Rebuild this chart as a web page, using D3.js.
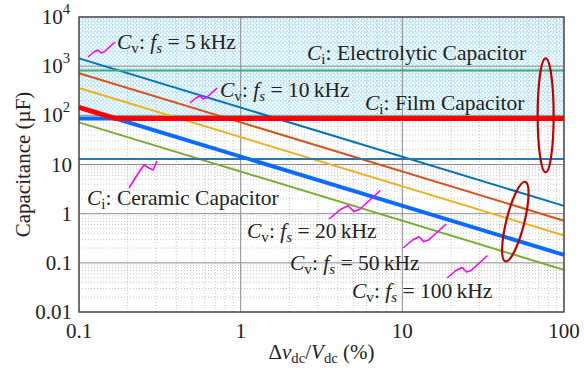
<!DOCTYPE html>
<html>
<head>
<meta charset="utf-8">
<script src="https://cdn.jsdelivr.net/npm/d3@7"></script>
<style>
  html, body { margin: 0; padding: 0; background: #fff; }
  svg text { font-family: 'Liberation Serif', 'DejaVu Serif', serif; fill: #222; }
</style>
</head>
<body>
<div id="chart"></div>
<script>
const WIDTH = 584;
const HEIGHT = 368;

// values (µF, at Δv = 0.1 % and 100 %)
const ripple = [0.1, 100];
const fsKHz = ['5', '10', '20', '50', '100'];
const cvLeft = [1440, 720, 360, 145, 72];
const cvRight = [1.44, 0.72, 0.36, 0.145, 0.072];
const cvColors = ['#0072BD', '#D95319', '#EDB120', '#0a6cff', '#77AC30'];

const capKinds = ['Electrolytic', 'Film', 'Ceramic'];
const capValues = [820, 86, 13];
const capColors = ['#35b07a', '#ff0000', '#1f78c0'];

const xTicks = [0.1, 1, 10, 100];
const xTickLabels = ['0.1', '1', '10', '100'];
const yTicks = [0.01, 0.1, 1, 10, 100, 1000, 10000];
const yTickLabels = ['0.01', '0.1', '1', '10', ['10', '2'], ['10', '3'], ['10', '4']];

const margin = { left: 79, right: 20, top: 17, bottom: 56 };
const x = d3.scaleLog().domain([0.1, 100]).range([margin.left, WIDTH - margin.right]);
const y = d3.scaleLog().domain([0.01, 1e4]).range([HEIGHT - margin.bottom, margin.top]);

const svg = d3.select('#chart').append('svg')
  .attr('width', WIDTH)
  .attr('height', HEIGHT);

// hatch pattern for the region above the film capacitor line
const defs = svg.append('defs');
const pat = defs.append('pattern')
  .attr('id', 'hatch')
  .attr('patternUnits', 'userSpaceOnUse')
  .attr('width', 4).attr('height', 4);
pat.append('rect').attr('width', 4).attr('height', 4).attr('fill', '#eef9fe');
pat.append('rect').attr('width', 2).attr('height', 2).attr('fill', '#c6ebf9');
pat.append('rect').attr('x', 2).attr('y', 2).attr('width', 2).attr('height', 2).attr('fill', '#c6ebf9');

svg.append('rect')
  .attr('x', x(0.1)).attr('y', y(1e4))
  .attr('width', x(100) - x(0.1))
  .attr('height', y(capValues[1]) - y(1e4))
  .attr('fill', 'url(#hatch)');

// grid
const grid = svg.append('g');
const minorX = [], minorY = [];
for (let e = -1; e < 2; e++) for (let k = 2; k <= 9; k++) minorX.push(k * Math.pow(10, e));
for (let e = -2; e < 4; e++) for (let k = 2; k <= 9; k++) minorY.push(k * Math.pow(10, e));

grid.selectAll('.mx').data(minorX).enter().append('line')
  .attr('x1', d => x(d)).attr('x2', d => x(d))
  .attr('y1', y(0.01)).attr('y2', y(1e4))
  .attr('stroke', '#b8b8b8').attr('stroke-width', 0.8).attr('stroke-dasharray', '1,2');
grid.selectAll('.my').data(minorY).enter().append('line')
  .attr('y1', d => y(d)).attr('y2', d => y(d))
  .attr('x1', x(0.1)).attr('x2', x(100))
  .attr('stroke', '#b8b8b8').attr('stroke-width', 0.8).attr('stroke-dasharray', '1,2');
grid.selectAll('.Mx').data(xTicks).enter().append('line')
  .attr('x1', d => x(d)).attr('x2', d => x(d))
  .attr('y1', y(0.01)).attr('y2', y(1e4))
  .attr('stroke', '#8c8c8c').attr('stroke-width', 1);
grid.selectAll('.My').data(yTicks).enter().append('line')
  .attr('y1', d => y(d)).attr('y2', d => y(d))
  .attr('x1', x(0.1)).attr('x2', x(100))
  .attr('stroke', '#8c8c8c').attr('stroke-width', 1);

const line = d3.line().x(d => x(d[0])).y(d => y(d[1]));

// Cv lines (the 50 kHz one is drawn separately as min/max with the film line)
fsKHz.forEach((f, i) => {
  if (i === 3) return;
  svg.append('path')
    .datum([[ripple[0], cvLeft[i]], [ripple[1], cvRight[i]]])
    .attr('d', line)
    .attr('fill', 'none')
    .attr('stroke', cvColors[i])
    .attr('stroke-width', 2);
});

// capacitor horizontal lines (electrolytic, ceramic)
[0, 2].forEach(i => {
  svg.append('path')
    .datum([[ripple[0], capValues[i]], [ripple[1], capValues[i]]])
    .attr('d', line)
    .attr('fill', 'none')
    .attr('stroke', capColors[i])
    .attr('stroke-width', 2);
});

// 50 kHz line vs film capacitor: crossing point
const film = capValues[1];
const k50 = cvLeft[3] * ripple[0];
const xCross = k50 / film;

svg.append('path')
  .datum([[ripple[0], film], [xCross, film], [ripple[1], cvRight[3]]])
  .attr('d', line)
  .attr('fill', 'none')
  .attr('stroke', cvColors[3])
  .attr('stroke-width', 4);

svg.append('path')
  .datum([[ripple[0], cvLeft[3]], [xCross, film], [ripple[1], film]])
  .attr('d', line)
  .attr('fill', 'none')
  .attr('stroke', capColors[1])
  .attr('stroke-width', 5);

// red ellipses
const ellipses = [
  { cx: 77, cy: 100, rx: 8, ry: 57, rot: 0 },
  { cx: 50, cy: 0.69, rx: 9, ry: 41, rot: 14 }
];
svg.selectAll('.ell').data(ellipses).enter().append('ellipse')
  .attr('transform', d => `translate(${x(d.cx)},${y(d.cy)}) rotate(${d.rot})`)
  .attr('rx', d => d.rx).attr('ry', d => d.ry)
  .attr('fill', 'none')
  .attr('stroke', '#c00000')
  .attr('stroke-width', 2.2);

// magenta leaders
const leaders = [
  [88, 57, 1], [190, 103, 1], [129, 188, 1.15], [329, 219, 1.9], [403, 248, 1.6], [447, 278, 1.5]
];
svg.selectAll('.lead').data(leaders).enter().append('path')
  .attr('d', (d, i) => {
    const s = d[2];
    if (i === 2) return `M${d[0]},${d[1]} l10,-16 l5,-7 l5,3 l4,2 l4,-9`;
    return `M${d[0]},${d[1]} l${6 * s},${-5 * s} l${4 * s},${-2 * s} l${3 * s},${3 * s} l${3 * s},${-1 * s} l${11 * s},${-10 * s}`;
  })
  .attr('fill', 'none')
  .attr('stroke', '#ff00ff')
  .attr('stroke-width', 1.6)
  .attr('stroke-linejoin', 'round');

// frame
svg.append('rect')
  .attr('x', x(0.1)).attr('y', y(1e4))
  .attr('width', x(100) - x(0.1)).attr('height', y(0.01) - y(1e4))
  .attr('fill', 'none').attr('stroke', '#444').attr('stroke-width', 1.3);

// labels
const FS = 21.5;
const TFS = 21;
function cvLabel(px, py, f) {
  const t = svg.append('text').attr('x', px).attr('y', py).attr('font-size', FS);
  t.append('tspan').attr('font-style', 'italic').text('C');
  t.append('tspan').attr('font-size', FS * 0.7).attr('dy', 4).text('v');
  t.append('tspan').attr('dy', -4).text(': ');
  t.append('tspan').attr('font-style', 'italic').text('f');
  t.append('tspan').attr('font-style', 'italic').attr('font-size', FS * 0.7).attr('dy', 4).text('s');
  t.append('tspan').attr('dy', -4).text(' = ' + f + '\u2009kHz');
}
function ciLabel(px, py, kind) {
  const t = svg.append('text').attr('x', px).attr('y', py).attr('font-size', FS);
  t.append('tspan').attr('font-style', 'italic').text('C');
  t.append('tspan').attr('font-size', FS * 0.7).attr('dy', 4).text('i');
  t.append('tspan').attr('dy', -4).text(': ' + kind + ' Capacitor');
}
const cvPos = [[117, 49], [220, 97], [247, 238], [290, 270], [352, 298]];
fsKHz.forEach((f, i) => cvLabel(cvPos[i][0], cvPos[i][1], f));
const ciPos = [[307, 60], [365, 110], [87, 205]];
capKinds.forEach((k, i) => ciLabel(ciPos[i][0], ciPos[i][1], k));

// tick labels
svg.selectAll('.xt').data(xTicks).enter().append('text')
  .attr('x', d => x(d)).attr('y', y(0.01) + 26)
  .attr('text-anchor', 'middle').attr('font-size', TFS)
  .text((d, i) => xTickLabels[i]);

yTicks.forEach((d, i) => {
  const lab = yTickLabels[i];
  const t = svg.append('text')
    .attr('x', Array.isArray(lab) ? 70 : 72)
    .attr('y', y(d) + 7)
    .attr('text-anchor', 'end').attr('font-size', TFS);
  if (Array.isArray(lab)) {
    t.append('tspan').text(lab[0]);
    t.append('tspan').attr('font-size', TFS * 0.7).attr('dy', -10).text(lab[1]);
  } else {
    t.text(lab);
  }
});

// axis titles
svg.append('text')
  .attr('transform', `translate(30,${(y(0.01) + y(1e4)) / 2}) rotate(-90)`)
  .attr('text-anchor', 'middle').attr('font-size', TFS)
  .text('Capacitance (\u00b5F)');

const xt = svg.append('text')
  .attr('x', (x(0.1) + x(100)) / 2).attr('y', 359)
  .attr('text-anchor', 'middle').attr('font-size', TFS);
xt.append('tspan').text('\u0394');
xt.append('tspan').attr('font-style', 'italic').text('v');
xt.append('tspan').attr('font-size', TFS * 0.7).attr('dy', 4).text('dc');
xt.append('tspan').attr('dy', -4).text('/');
xt.append('tspan').attr('font-style', 'italic').text('V');
xt.append('tspan').attr('font-size', TFS * 0.7).attr('dy', 4).text('dc');
xt.append('tspan').attr('dy', -4).text(' (%)');
</script>
</body>
</html>
